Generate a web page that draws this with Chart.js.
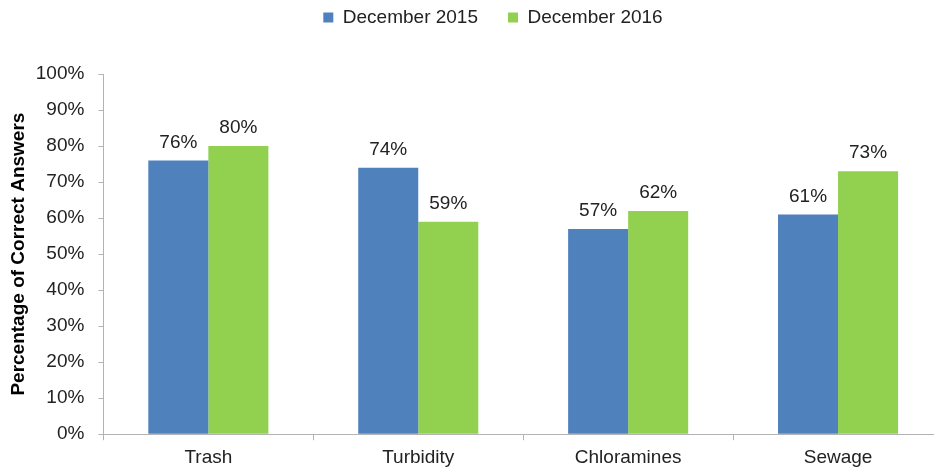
<!DOCTYPE html>
<html>
<head>
<meta charset="utf-8">
<script src="https://cdn.jsdelivr.net/npm/chart.js@4/dist/chart.umd.min.js"></script>
<style>
  html, body { margin: 0; padding: 0; background: #fff; overflow: hidden; }
  /* plot runs past the right edge in the original, so the canvas is a bit wider than the view */
  #wrap { width: 934px; height: 472px; overflow: hidden; }
</style>
</head>
<body>
<div id="wrap"><canvas id="chart" width="943" height="472"></canvas></div>
<script>
const categories = ["Trash", "Turbidity", "Chloramines", "Sewage"];
const dec2015 = [76, 74, 57, 61];
const dec2016 = [80, 59, 62, 73];
const seriesNames = ["December 2015", "December 2016"];
const yTicks = [0, 10, 20, 30, 40, 50, 60, 70, 80, 90, 100];

const FONT = "'Liberation Sans', Arial, sans-serif";
const AXIS_GREY = "#b3b3b3";

// labels above each bar
const valueLabels = {
    id: "valueLabels",
    afterDatasetsDraw(chart) {
        const ctx = chart.ctx;
        ctx.save();
        ctx.font = "19px " + FONT;
        ctx.fillStyle = "#222";
        ctx.textAlign = "center";
        ctx.textBaseline = "middle";
        chart.data.datasets.forEach((ds, i) => {
            chart.getDatasetMeta(i).data.forEach((bar, j) => {
                ctx.fillText(ds.data[j] + "%", bar.x, bar.y - 18);
            });
        });
        ctx.restore();
    }
};

// legend: extra room below it, and nudged right like the original
const legendSpacing = {
    id: "legendSpacing",
    beforeInit(chart) {
        const fit = chart.legend.fit;
        chart.legend.fit = function () {
            fit.bind(chart.legend)();
            this.height += 37;
        };
    },
    afterLayout(chart) {
        chart.legend.left += 20;
        chart.legend.right += 20;
    }
};

new Chart(document.getElementById("chart").getContext("2d"), {
    type: "bar",
    data: {
        labels: categories,
        datasets: [
            { label: seriesNames[0], data: dec2015, backgroundColor: "#4f81bd" },
            { label: seriesNames[1], data: dec2016, backgroundColor: "#92d050" }
        ]
    },
    options: {
        responsive: false,
        animation: false,
        layout: { padding: { top: -22, right: 0, left: 3, bottom: -3 } },
        datasets: { bar: { categoryPercentage: 0.572, barPercentage: 1.0 } },
        scales: {
            x: {
                grid: { display: true, drawOnChartArea: false, offset: true, color: AXIS_GREY, tickLength: 6 },
                border: { color: AXIS_GREY },
                ticks: { color: "#222", font: { family: FONT, size: 19 }, padding: 6 }
            },
            y: {
                min: 0,
                max: 100,
                afterBuildTicks(axis) { axis.ticks = yTicks.map(v => ({ value: v })); },
                grid: { display: true, drawOnChartArea: false, color: AXIS_GREY, tickLength: 5 },
                border: { color: AXIS_GREY },
                ticks: { color: "#222", font: { family: FONT, size: 19 }, padding: 14, callback: v => v + "%" },
                title: { display: true, text: "Percentage of Correct Answers", color: "#000", font: { family: FONT, size: 19, weight: "bold" }, padding: { top: 4, bottom: -8 } }
            }
        },
        plugins: {
            legend: {
                position: "top",
                labels: { color: "#222", font: { family: FONT, size: 19 }, boxWidth: 10, boxHeight: 10, padding: 30 }
            },
            tooltip: { enabled: false }
        }
    },
    plugins: [valueLabels, legendSpacing]
});
</script>
</body>
</html>
